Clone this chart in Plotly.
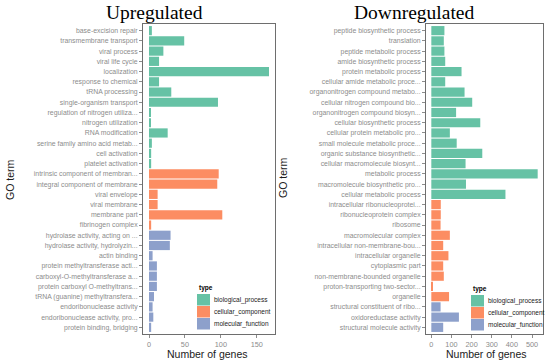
import plotly.graph_objects as go

# ---------------- data ----------------
up_terms = [
    "base-excision repair", "transmembrane transport", "viral process", "viral life cycle",
    "localization", "response to chemical", "tRNA processing", "single-organism transport",
    "regulation of nitrogen utiliza...", "nitrogen utilization", "RNA modification",
    "serine family amino acid metab...", "cell activation", "platelet activation",
    "intrinsic component of membran...", "integral component of membrane", "viral envelope",
    "viral membrane", "membrane part", "fibrinogen complex",
    "hydrolase activity, acting on ...", "hydrolase activity, hydrolyzin...", "actin binding",
    "protein methyltransferase acti...", "carboxyl-O-methyltransferase a...",
    "protein carboxyl O-methyltrans...", "tRNA (guanine) methyltransfera...",
    "endoribonuclease activity", "endoribonuclease activity, pro...", "protein binding, bridging",
]
up_counts = [4, 49, 20, 14, 167, 14, 31, 96, 2, 2, 26, 4, 3, 3,
             97, 95, 12, 12, 102, 3,
             30, 29, 5, 11, 11, 11, 7, 5, 6, 3]
up_types = (["biological_process"] * 14 + ["cellular_component"] * 6 +
            ["molecular_function"] * 10)

down_terms = [
    "peptide biosynthetic process", "translation", "peptide metabolic process",
    "amide biosynthetic process", "protein metabolic process", "cellular amide metabolic proce...",
    "organonitrogen compound metabo...", "cellular nitrogen compound bio...",
    "organonitrogen compound biosyn...", "cellular biosynthetic process",
    "cellular protein metabolic pro...", "small molecule metabolic proce...",
    "organic substance biosynthetic...", "cellular macromolecule biosynt...", "metabolic process",
    "macromolecule biosynthetic pro...", "cellular metabolic process",
    "intracellular ribonucleoprotei...", "ribonucleoprotein complex", "ribosome",
    "macromolecular complex", "intracellular non-membrane-bou...", "intracellular organelle",
    "cytoplasmic part", "non-membrane-bounded organelle", "proton-transporting two-sector...",
    "organelle",
    "structural constituent of ribo...", "oxidoreductase activity", "structural molecule activity",
]
down_counts = [65, 62, 65, 69, 150, 69, 165, 203, 123, 243, 92, 126, 253, 170, 528, 172, 368,
               47, 47, 46, 92, 59, 85, 59, 62, 7, 88,
               46, 137, 59]
down_types = (["biological_process"] * 17 + ["cellular_component"] * 10 +
              ["molecular_function"] * 3)

type_names = ["biological_process", "cellular_component", "molecular_function"]
type_colors = {"biological_process": "#66C2A5",
               "cellular_component": "#FC8D62",
               "molecular_function": "#8DA0CB"}

up_xticks = [0, 50, 100, 150]
down_xticks = [0, 100, 200, 300, 400, 500]

# ---------------- figure ----------------
W, H = 550, 363
TICK_COL = "#8c8c8c"
LINE_COL = "#6e6e6e"
FONT = "Liberation Sans, Arial, sans-serif"
TICK_SIZE = 6.9

fig = go.Figure()
fig.add_trace(go.Bar(
    x=up_counts, y=up_terms, orientation="h",
    marker=dict(color=[type_colors[t] for t in up_types], line=dict(width=0)),
    xaxis="x", yaxis="y", showlegend=False, hoverinfo="x+y"))
fig.add_trace(go.Bar(
    x=down_counts, y=down_terms, orientation="h",
    marker=dict(color=[type_colors[t] for t in down_types], line=dict(width=0)),
    xaxis="x2", yaxis="y2", showlegend=False, hoverinfo="x+y"))

ytop, ybot = 1 - 24 / H, 1 - 334 / H


def xax(domain, vmax, ticks, anchor):
    pad = vmax * 0.05
    return dict(domain=domain, range=[-pad, vmax + pad], tickvals=ticks,
                anchor=anchor, showgrid=False, zeroline=False, automargin=False,
                showline=True, mirror=True, linecolor=LINE_COL, linewidth=1,
                ticks="outside", ticklen=3, tickcolor=TICK_COL, tickwidth=1,
                ticklabelstandoff=0,
                tickfont=dict(size=TICK_SIZE + 0.4, color=TICK_COL, family=FONT))


def yax(domain, terms, anchor):
    n = len(terms)
    return dict(domain=domain, type="category", categoryorder="array",
                categoryarray=terms, range=[n - 1 + 0.65, -0.65],
                anchor=anchor, showgrid=False, zeroline=False, automargin=False,
                showline=True, mirror=True, linecolor=LINE_COL, linewidth=1,
                ticks="outside", ticklen=3, tickcolor=TICK_COL, tickwidth=1,
                tickfont=dict(size=TICK_SIZE, color=TICK_COL, family=FONT))


fig.update_layout(
    width=W, height=H, margin=dict(l=0, r=0, t=0, b=0),
    paper_bgcolor="white", plot_bgcolor="white",
    bargap=0.1, barmode="overlay",
    xaxis=xax([143 / W, 275 / W], max(up_counts), up_xticks, "y"),
    yaxis=yax([ybot, ytop], up_terms, "x"),
    xaxis2=xax([426 / W, 543 / W], max(down_counts), down_xticks, "y2"),
    yaxis2=yax([ybot, ytop], down_terms, "x2"),
)

ann = []
shapes = []
# titles
for txt, cx in [("Upregulated", 154), ("Downregulated", 414)]:
    ann.append(dict(text=txt, x=cx / W, y=1 - 12 / H, xref="paper", yref="paper",
                    showarrow=False, xanchor="center", yanchor="middle",
                    font=dict(size=19.5, color="black",
                              family="Liberation Serif, Times New Roman, serif")))
# axis titles
for cx in [207, 486]:
    ann.append(dict(text="Number of genes", x=cx / W, y=1 - 353.5 / H, xref="paper",
                    yref="paper", showarrow=False, xanchor="center", yanchor="middle",
                    borderpad=0,
                    font=dict(size=10.5, color="#1a1a1a", family=FONT)))
for cx, cy in [(10, 180), (283, 178)]:
    ann.append(dict(text="GO term", x=cx / W, y=1 - cy / H, xref="paper", yref="paper",
                    showarrow=False, textangle=-90, xanchor="center", yanchor="middle",
                    font=dict(size=10.5, color="#1a1a1a", family=FONT)))
# legends (drawn inside each panel)
for lx, ly in [(197, 288), (471, 289)]:
    ann.append(dict(text="<b>type</b>", x=lx / W, y=1 - ly / H, xref="paper", yref="paper",
                    showarrow=False, xanchor="left", yanchor="middle",
                    font=dict(size=6.5, color="black", family=FONT)))
    for i, t in enumerate(type_names):
        y0 = ly + 6 + i * 12
        shapes.append(dict(type="rect", xref="paper", yref="paper",
                           x0=lx / W, x1=(lx + 13) / W,
                           y0=1 - y0 / H, y1=1 - (y0 + 11.5) / H,
                           fillcolor=type_colors[t], line=dict(width=0)))
        ann.append(dict(text=t, x=(lx + 15) / W, y=1 - (y0 + 6) / H,
                        xref="paper", yref="paper", showarrow=False,
                        xanchor="left", yanchor="middle",
                        font=dict(size=6.5, color="#1a1a1a", family=FONT)))
fig.update_layout(annotations=ann, shapes=shapes)

fig.write_html("out.html", config={"displayModeBar": False},
               post_script="document.body.style.margin='0';document.body.style.overflow='hidden';")
